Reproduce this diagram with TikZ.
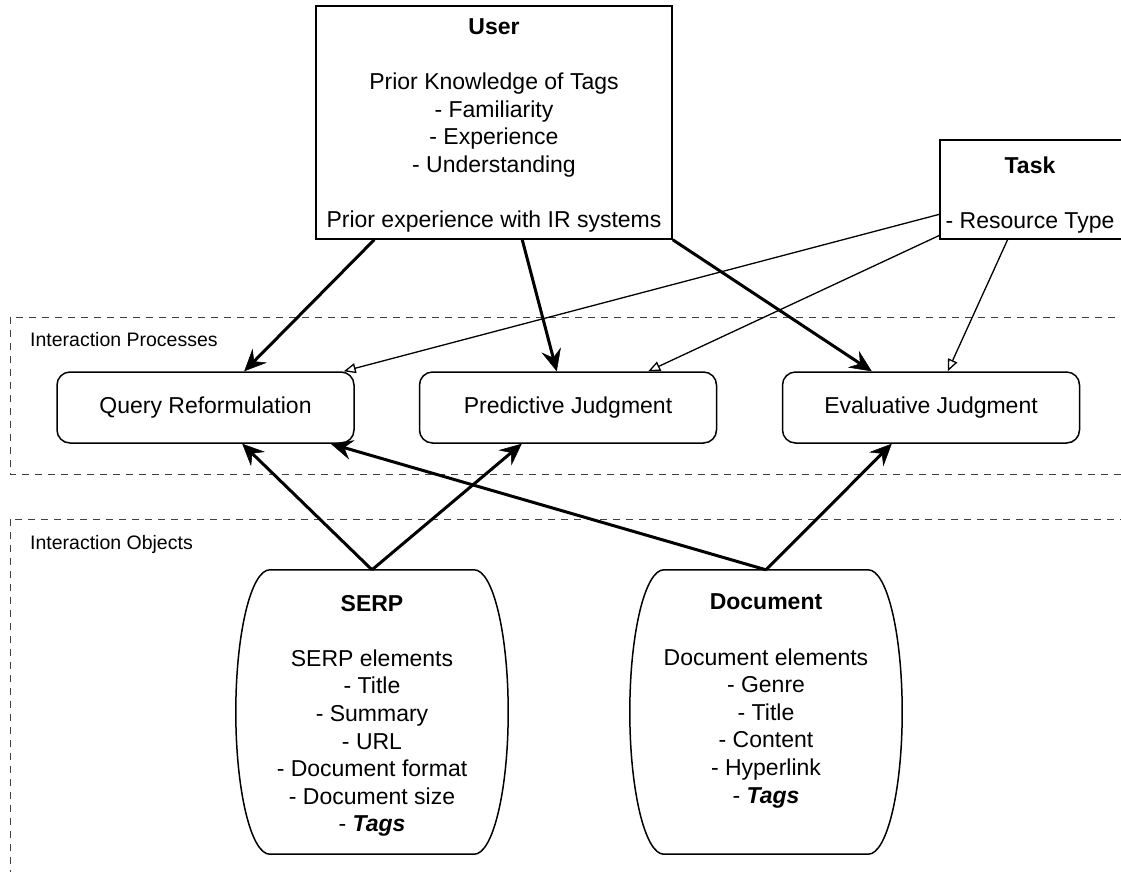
\documentclass[tikz,border=0pt]{standalone}
\usepackage{fontspec}
\setmainfont{Liberation Sans}
\usetikzlibrary{arrows.meta,calc}

\tikzset{
  base/.style={font=\fontsize{23}{27.6}\selectfont, align=center, inner sep=0pt},
  plainbox/.style={base, draw, line width=1.5pt, fill=white},
  openbox/.style={base, fill=white},
  boxline/.style={line width=1.5pt},
  procbox/.style={base, draw, line width=1.5pt, rounded corners=13pt,
    minimum width=297pt, minimum height=71pt},
  objspace/.style={minimum width=272pt, minimum height=284pt, inner sep=0pt},
  objline/.style={line width=1.5pt},
  group/.style={draw=black!75, line width=1pt, dash pattern=on 7pt off 6pt},
  grouplabel/.style={font=\fontsize{19.5}{23}\selectfont, anchor=base west, inner sep=0pt},
  strong/.style={line width=3pt,
    -{Stealth[length=22pt,width=20pt,inset=8pt,line width=0.5pt]}},
  weak/.style={line width=1.3pt,
    -{Triangle[length=12pt,width=10pt,fill=white,line width=1.3pt]}},
}

% barrel outline drawn around a named object node (flat top and bottom, elliptic sides)
\newcommand\barreloutline[1]{%
  \draw[objline]
    ($(#1.north west)+(34,0)$) -- ($(#1.north east)+(-34,0)$)
    .. controls ($(#1.north east)+(-15.22,0)$) and ($(#1.east)+(0,-78.43)$) .. (#1.east)
    .. controls ($(#1.east)+(0,78.43)$) and ($(#1.south east)+(-15.22,0)$) .. ($(#1.south east)+(-34,0)$)
    -- ($(#1.south west)+(34,0)$)
    .. controls ($(#1.south west)+(15.22,0)$) and ($(#1.west)+(0,78.43)$) .. (#1.west)
    .. controls ($(#1.west)+(0,-78.43)$) and ($(#1.north west)+(15.22,0)$) .. cycle;%
}

\begin{document}
\begin{tikzpicture}[x=1pt,y=-1pt]
\useasboundingbox (0,0) rectangle (1121,871);
\clip (0,0) rectangle (1121,871);

% dashed groups
\draw[group] (10,317) rectangle (1140,474);
\draw[group] (10,519) rectangle (1140,890);
\node[grouplabel] (proclabel) at (30,346) {Interaction Processes};
\node[grouplabel] (objlabel) at (30,549) {Interaction Objects};

% context boxes
\node[plainbox, minimum width=356pt, minimum height=233pt] (user) at (494,122.5)
  {\rule{0pt}{21.5pt}\textbf{User}\\[27.6pt]
   Prior Knowledge of Tags\\- Familiarity\\- Experience\\- Understanding\\[27.6pt]
   Prior experience with IR systems};
% the task box runs off the right edge, so only three sides are stroked
\node[openbox, minimum width=180pt, minimum height=99pt] (task) at (1030,189.5)
  {\rule{0pt}{27.5pt}\textbf{Task}\\[27.6pt]- Resource Type};
\draw[boxline] ($(task.north east)+(20,0)$) -- (task.north west)
  -- (task.south west) -- ($(task.south east)+(20,0)$);

% interaction processes
\node[procbox] (qr) at (205.5,407.5) {Query Reformulation};
\node[procbox] (pj) at (568,407.5) {Predictive Judgment};
\node[procbox] (ej) at (931,407.5) {Evaluative Judgment};

% interaction objects
\node[objspace] (serp) at (372,712) {};
\node[objspace] (doc) at (766,712) {};
\barreloutline{serp}
\barreloutline{doc}
\node[base, anchor=north] (serptext) at ($(serp.north)+(0,25)$)
  {\textbf{SERP}\\[27.6pt]SERP elements\\- Title\\- Summary\\- URL\\
   - Document format\\- Document size\\- \textbf{\textit{Tags}}};
\node[base, anchor=north] (doctext) at ($(doc.north)+(0,24)$)
  {\textbf{Document}\\[27.6pt]Document elements\\- Genre\\- Title\\- Content\\
   - Hyperlink\\- \textbf{\textit{Tags}}};

% user influences
\draw[strong] ($(user.south west)+(59,0)$) -- ($(qr.north west)+(188,0)$);
\draw[strong] ($(user.south west)+(207,0)$) -- ($(pj.north west)+(138,0)$);
\draw[strong] (user.south east) -- ($(ej.north west)+(90,0)$);

% task influences
\draw[weak] ($(task.south west)+(0,-25)$) -- ($(qr.north east)+(-11,0)$);
\draw[weak] ($(task.south west)+(0,-4)$) -- ($(pj.north east)+(-69,0)$);
\draw[weak] ($(task.south west)+(68,0)$) -- ($(ej.north west)+(166,0)$);

% object influences
\draw[strong] (serp.north) -- ($(qr.south west)+(186,0)$);
\draw[strong] (serp.north) -- ($(pj.south west)+(103,0)$);
\draw[strong] (doc.north) -- ($(qr.south east)+(-24,0)$);
\draw[strong] (doc.north) -- ($(ej.south west)+(110,0)$);
\end{tikzpicture}
\end{document}
